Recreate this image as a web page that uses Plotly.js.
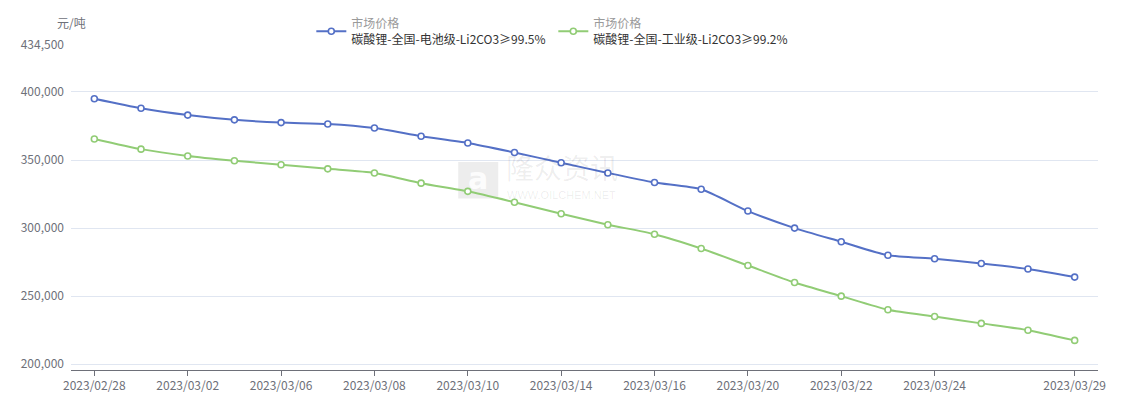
<!DOCTYPE html>
<html>
<head>
<meta charset="utf-8">
<script src="https://cdn.plot.ly/plotly-3.0.1.min.js"></script>
<style>html,body{margin:0;padding:0;background:#fff;}#chart{width:1124px;height:398px;}</style>
</head>
<body>
<div id="chart"></div>
<script>
const dates = ["2023/02/28","2023/03/01","2023/03/02","2023/03/03","2023/03/06","2023/03/07","2023/03/08","2023/03/09","2023/03/10","2023/03/13","2023/03/14","2023/03/15","2023/03/16","2023/03/17","2023/03/20","2023/03/21","2023/03/22","2023/03/23","2023/03/24","2023/03/27","2023/03/28","2023/03/29"];
const batteryGrade = [395000,388000,383000,379500,377500,376500,373500,367500,362500,355500,348000,340500,333500,328500,312500,300000,290000,280000,277500,274000,270000,264000];
const industrialGrade = [365500,358000,353000,349500,346500,343500,340500,333000,327000,319000,310500,302500,295500,285000,272500,260000,250000,240000,235000,230000,225000,217500];
const xTickLabels = ["2023/02/28","2023/03/02","2023/03/06","2023/03/08","2023/03/10","2023/03/14","2023/03/16","2023/03/20","2023/03/22","2023/03/24","2023/03/29"];
const yTickVals = [200000,250000,300000,350000,400000,434500];
const seriesGroup = "市场价格";
const batteryName = "碳酸锂-全国-电池级-Li2CO3≥99.5%";
const industrialName = "碳酸锂-全国-工业级-Li2CO3≥99.2%";

const FONT = '"Noto Sans CJK SC", "Noto Sans", sans-serif';
const AX = '#6E7079';

function mk(y, name, color) {
  return {
    x: dates, y: y, type: 'scatter', mode: 'lines+markers',
    name: '<span style="color:#9a9a9a">' + seriesGroup + '</span><br>' + name,
    line: {color: color, width: 2, shape: 'spline', smoothing: 0.6},
    marker: {symbol: 'circle', size: 6, color: '#ffffff', line: {color: color, width: 1.6}},
    hoverinfo: 'x+y'
  };
}

const data = [mk(batteryGrade, batteryName, '#5470C6'), mk(industrialGrade, industrialName, '#91CC75')];

const layout = {
  width: 1124, height: 398,
  margin: {l: 71, r: 26, t: 45, b: 28, autoexpand: false},
  paper_bgcolor: '#fff', plot_bgcolor: '#fff',
  font: {family: FONT, size: 12, color: AX},
  showlegend: true,
  legend: {
    orientation: 'h', x: 0.234, y: 1.041, xanchor: 'left', yanchor: 'middle',
    font: {family: FONT, size: 12, color: '#333'},
    entrywidth: 197, entrywidthmode: 'pixels', itemwidth: 30, bgcolor: 'rgba(0,0,0,0)'
  },
  xaxis: {
    type: 'category', range: [-0.5, 21.5],
    tickmode: 'array', tickvals: xTickLabels, ticktext: xTickLabels,
    ticks: 'outside', ticklen: 5, tickcolor: AX, tickwidth: 1,
    showline: true, linecolor: AX, linewidth: 1,
    showgrid: false, zeroline: false,
    tickfont: {family: FONT, size: 12, color: AX}, fixedrange: true
  },
  yaxis: {
    range: [195750, 434500],
    tickmode: 'array', tickvals: yTickVals, tickformat: ',d',
    showgrid: true, gridcolor: '#E0E6F1', gridwidth: 1,
    zeroline: false, showline: false, ticks: '',
    ticklabelstandoff: 6,
    tickfont: {family: FONT, size: 12, color: AX}, fixedrange: true
  },
  shapes: [
    {type: 'rect', xref: 'paper', yref: 'paper', x0: 0.377, x1: 0.416, y0: 0.528, y1: 0.64,
     fillcolor: 'rgba(0,0,0,0.07)', line: {width: 0}, layer: 'below'}
  ],
  annotations: [
    {xref: 'paper', yref: 'paper', x: 0.0, y: 1.068, text: '元/吨', showarrow: false,
     xanchor: 'center', yanchor: 'middle', font: {family: FONT, size: 12, color: AX}},
    {xref: 'paper', yref: 'paper', x: 0.3965, y: 0.59, text: '<b>a</b>', showarrow: false,
     xanchor: 'center', yanchor: 'middle', font: {family: 'DejaVu Sans', size: 30, color: 'rgba(255,255,255,0.9)'}},
    {xref: 'paper', yref: 'paper', x: 0.422, y: 0.625, text: '隆众资讯', showarrow: false,
     xanchor: 'left', yanchor: 'middle', font: {family: FONT, size: 28, color: 'rgba(0,0,0,0.07)'}},
    {xref: 'paper', yref: 'paper', x: 0.423, y: 0.54, text: 'WWW.OILCHEM.NET', showarrow: false,
     xanchor: 'left', yanchor: 'middle', font: {family: 'Liberation Sans', size: 11, color: 'rgba(0,0,0,0.08)'}}
  ]
};

Plotly.newPlot('chart', data, layout, {displayModeBar: false, staticPlot: true});
</script>
</body>
</html>
